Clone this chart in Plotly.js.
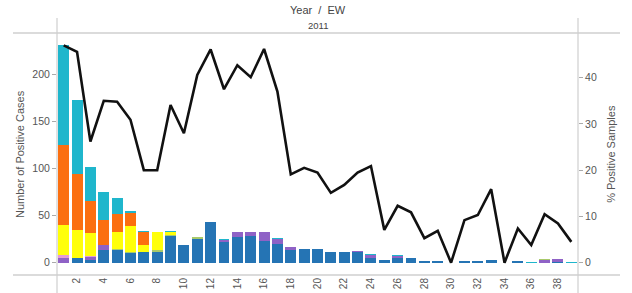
<!DOCTYPE html>
<html>
<head>
<meta charset="utf-8">
<script src="https://cdn.plot.ly/plotly-3.0.1.min.js"></script>
<style>html,body{margin:0;padding:0;background:#fff;}#chart{width:632px;height:293px;}</style>
</head>
<body>
<div id="chart"></div>
<script>
var weeks = [1,2,3,4,5,6,7,8,9,10,11,12,13,14,15,16,17,18,19,20,21,22,23,24,25,26,27,28,29,30,31,32,33,34,35,36,37,38,39];
var tickWeeks = [2,4,6,8,10,12,14,16,18,20,22,24,26,28,30,32,34,36,38];
var blueVals   = [0,5,3,13,14,10,11,11,28,19,25,43,22,27,28,23,20,14,15,15,11,11,11,5,3,5,5,2,2,0,2,2,3,0,2,0,0,1,0];
var purpleVals = [5,0,3,6,0,0,0,0,0,0,0,0,2,6,5,10,5,3,0,0,0,0,1,3,0,2,0,0,0,0,0,0,0,0,0,0,3,3,0];
var pinkVals   = [3,0,1,0,0,0,0,0,0,0,0,0,0,0,0,0,0,0,0,0,0,0,0,0,0,0,0,0,0,0,0,0,0,0,0,0,0,0,0];
var greenVals  = [0,0,0,0,1,1,0,2,1,0,2,0,0,0,0,0,0,0,0,0,0,0,0,0,0,0,0,0,0,0,0,0,0,0,0,0,1,0,0];
var yellowVals = [32,30,25,0,18,28,8,20,4,0,0,0,0,0,0,0,0,0,0,0,0,0,0,0,0,0,0,0,0,0,0,0,0,0,0,0,0,0,0];
var orangeVals = [85,59,33,26,19,14,14,0,0,0,0,0,0,0,0,0,0,0,0,0,0,0,0,0,0,0,0,0,0,0,0,0,0,0,0,0,0,0,0];
var cyanVals   = [106,79,37,30,17,2,1,0,1,0,0,0,1,0,0,0,1,0,0,0,0,0,0,1,0,1,0,0,0,0,0,0,0,0,0,1,0,0,1];
var pctPositive = [47,45.6,26.2,35,34.8,30.9,20,20,34.1,28,40.6,46.1,37.5,42.7,40.1,46.2,37,19.1,20.5,19.5,15.1,16.8,19.5,20.9,7.1,12.3,10.9,5.3,6.9,0,9.2,10.3,15.9,0,7.4,3.8,10.5,8.5,4.5];

var series = [
  {name:'A(H1N1)pdm09', vals: blueVals, color:'#2574b4'},
  {name:'A(H3N2)', vals: purpleVals, color:'#8f62c6'},
  {name:'A not subtyped', vals: pinkVals, color:'#e59bd6'},
  {name:'B Victoria', vals: greenVals, color:'#a8c96a'},
  {name:'B', vals: yellowVals, color:'#ffff0a'},
  {name:'RSV', vals: orangeVals, color:'#fb6f10'},
  {name:'Other', vals: cyanVals, color:'#1fb6cc'}
];

var traces = series.map(function(s){
  return {type:'bar', x: weeks, y: s.vals, name: s.name,
          marker:{color: s.color, line:{width:0}}, hoverinfo:'x+y+name'};
});
traces.push({type:'scatter', mode:'lines', x: weeks, y: pctPositive, yaxis:'y2',
  name:'% Positive Samples', line:{color:'#111', width:2.6}});

var gray = '#cfcfcf';
var txt = '#555';
var layout = {
  width:632, height:293,
  margin:{l:57, r:54, t:33, b:18, pad:0},
  barmode:'stack', bargap:0.18,
  showlegend:false,
  paper_bgcolor:'#fff', plot_bgcolor:'#fff',
  font:{family:'Liberation Sans, Arial, sans-serif', size:10, color:txt},
  xaxis:{range:[0.5,39.5], tickvals:tickWeeks, ticktext:tickWeeks.map(String), tickangle:-90,
         showgrid:false, zeroline:false, showline:false, ticks:'', tickfont:{size:10,color:txt}, fixedrange:true},
  yaxis:{range:[-13,243.5], tickvals:[0,50,100,150,200], showgrid:false, zeroline:false, showline:false,
         ticks:'outside', ticklen:4, tickcolor:'#aaa', tickfont:{size:10.5,color:txt}},
  yaxis2:{range:[-2.66,49.66], overlaying:'y', side:'right', tickvals:[0,10,20,30,40], showgrid:false,
          zeroline:false, showline:false, ticks:'outside', ticklen:4, tickcolor:'#aaa', tickfont:{size:10.5,color:txt}},
  shapes:[
    {type:'line', xref:'paper', yref:'paper', x0:-0.0845, x1:1.0806, y0:1, y1:1, line:{color:gray, width:1.5}},
    {type:'line', xref:'paper', yref:'paper', x0:-0.0845, x1:1.0806, y0:0, y1:0, line:{color:gray, width:1.5}},
    {type:'line', xref:'paper', yref:'paper', x0:0, x1:0, y0:-0.075, y1:1.062, line:{color:gray, width:1.2}},
    {type:'line', xref:'paper', yref:'paper', x0:1, x1:1, y0:-0.075, y1:1.062, line:{color:gray, width:1.2}}
  ],
  annotations:[
    {text:'Year  /  EW', xref:'paper', yref:'paper', x:0.5, y:1.095, xanchor:'center', yanchor:'middle', showarrow:false, font:{size:11,color:'#444'}},
    {text:'2011', xref:'paper', yref:'paper', x:0.5, y:1.029, xanchor:'center', yanchor:'middle', showarrow:false, font:{size:9.5,color:'#444'}},
    {text:'Number of Positive Cases', xref:'paper', yref:'paper', x:-0.071, y:0.5, xanchor:'center', yanchor:'middle', textangle:-90, showarrow:false, font:{size:11,color:txt}},
    {text:'% Positive Samples', xref:'paper', yref:'paper', x:1.063, y:0.5, xanchor:'center', yanchor:'middle', textangle:-90, showarrow:false, font:{size:11,color:txt}}
  ]
};
Plotly.newPlot('chart', traces, layout, {displayModeBar:false, staticPlot:true});
</script>
</body>
</html>
